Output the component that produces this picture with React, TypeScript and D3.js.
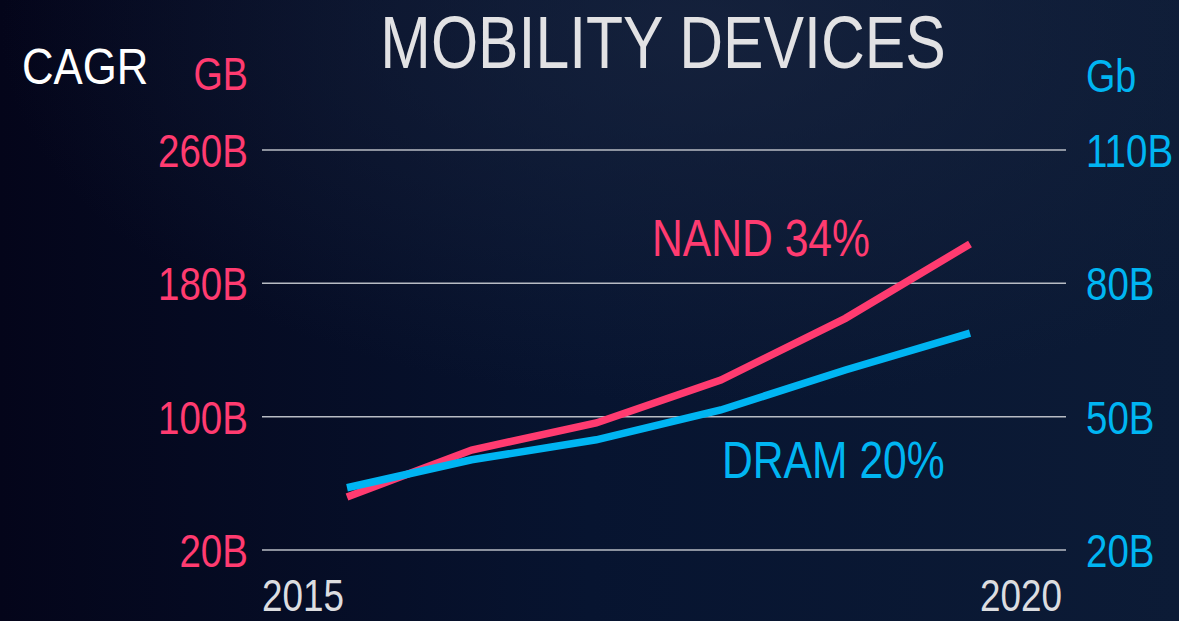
import React from 'react';
import * as d3 from 'd3';

const years = [2015, 2016, 2017, 2018, 2019, 2020];
const nandGB = [51.8, 80, 96.2, 122, 159, 203.6];
const dramGb = [34, 40.3, 44.8, 51.5, 60.5, 68.8];
const leftTicks = [20, 100, 180, 260];
const rightTicks = [20, 50, 80, 110];

const W = 1179;
const H = 621;
const PINK = '#ff3b70';
const BLUE = '#00b5f2';
const FONT = '"Liberation Sans", Arial, sans-serif';
const NARROW = 0.82;

// condensed text: Liberation Sans squeezed horizontally (no narrow face installed)
const NText = ({ x, y, size, fill, anchor = 'start', sx = NARROW, children }: any) => (
  <text
    transform={`translate(${x},${y}) scale(${sx},1)`}
    textAnchor={anchor}
    fontSize={size}
    fill={fill}
  >
    {children}
  </text>
);

const App = () => {
  // plot frame
  const gridLeft = 262;
  const gridRight = 1066;
  const top = 150;
  const bottom = 550;

  const x = d3.scaleLinear().domain([2015, 2020]).range([347, 970]);
  const yLeft = d3.scaleLinear().domain([20, 260]).range([bottom, top]);
  const yRight = d3.scaleLinear().domain([20, 110]).range([bottom, top]);

  const nandLine = d3.line<number>()
    .x((_, i) => x(years[i]))
    .y(d => yLeft(d));
  const dramLine = d3.line<number>()
    .x((_, i) => x(years[i]))
    .y(d => yRight(d));

  return (
    <svg
      width={W}
      height={H}
      style={{ position: 'fixed', left: 0, top: 0, display: 'block' }}
      fontFamily={FONT}
    >
      <defs>
        <linearGradient id="bg" x1="0" y1="0" x2="1" y2="0">
          <stop offset="0" stopColor="#04051a" />
          <stop offset="0.5" stopColor="#071430" />
          <stop offset="1" stopColor="#0c1b36" />
        </linearGradient>
        <radialGradient id="glow" cx="0.6" cy="0.05" r="0.6">
          <stop offset="0" stopColor="#1a2640" stopOpacity="0.7" />
          <stop offset="1" stopColor="#1a2640" stopOpacity="0" />
        </radialGradient>
      </defs>
      <rect width={W} height={H} fill="url(#bg)" />
      <rect width={W} height={H} fill="url(#glow)" />

      {/* title */}
      <NText x={663} y={68} anchor="middle" size={74} fill="#e2e2e4">MOBILITY DEVICES</NText>
      <NText x={22} y={84} size={50} sx={0.875} fill="#ffffff">CAGR</NText>
      <NText x={248} y={90} anchor="end" size={46} fill={PINK}>GB</NText>
      <NText x={1086} y={92} size={46} fill={BLUE}>Gb</NText>

      {/* grid */}
      {leftTicks.map(t => (
        <line key={t} x1={gridLeft} x2={gridRight} y1={yLeft(t)} y2={yLeft(t)}
          stroke="#b8bcc4" strokeWidth={1.5} />
      ))}

      {/* left axis labels */}
      {leftTicks.map(t => (
        <NText key={t} x={248} y={yLeft(t) + 17} anchor="end" size={47} fill={PINK}>
          {`${t}B`}
        </NText>
      ))}
      {/* right axis labels */}
      {rightTicks.map(t => (
        <NText key={t} x={1086} y={yRight(t) + 17} size={47} fill={BLUE}>
          {`${t}B`}
        </NText>
      ))}

      {/* year labels */}
      <NText x={gridLeft} y={611} size={45} fill="#dcdde0">{years[0]}</NText>
      <NText x={1062} y={611} anchor="end" size={45} fill="#dcdde0">{years[years.length - 1]}</NText>

      {/* series */}
      <path d={nandLine(nandGB) || ''} fill="none" stroke={PINK} strokeWidth={7.5} />
      <path d={dramLine(dramGb) || ''} fill="none" stroke={BLUE} strokeWidth={7.5} />

      <NText x={652} y={256} size={52} fill={PINK}>NAND 34%</NText>
      <NText x={722} y={478} size={52} fill={BLUE}>DRAM 20%</NText>
    </svg>
  );
};

export default App;
